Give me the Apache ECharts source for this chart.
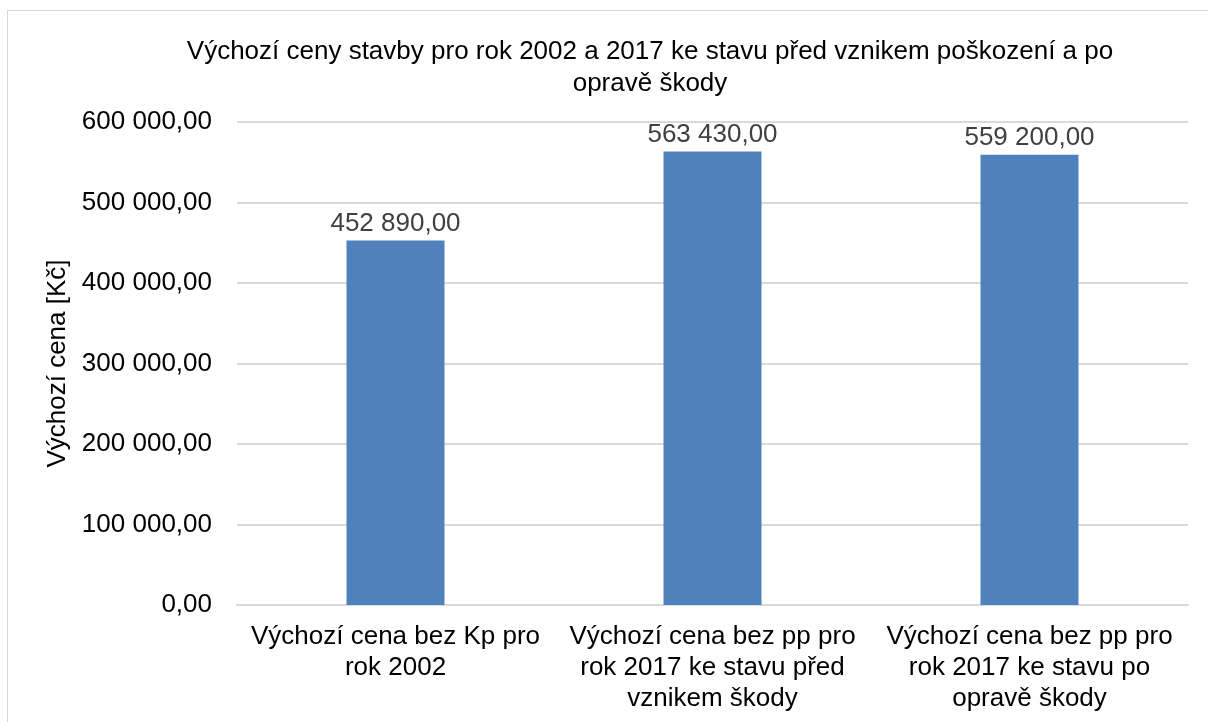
<!DOCTYPE html>
<html lang="cs">
<head>
<meta charset="UTF-8">
<title>Výchozí ceny stavby</title>
<script src="https://cdn.jsdelivr.net/npm/echarts@6/dist/echarts.min.js"></script>
<style>
  html, body { margin: 0; padding: 0; background: #fff; }
  #frame { position: absolute; left: 7px; top: 10px; width: 1210px; height: 730px; border: 1px solid #d9d9d9; box-sizing: border-box; }
  #main { position: absolute; left: 0; top: 0; width: 1208px; height: 722px; }
</style>
</head>
<body>
<div id="frame"></div>
<div id="main"></div>
<script>
var categories = [
  'Výchozí cena bez Kp pro\nrok 2002',
  'Výchozí cena bez pp pro\nrok 2017 ke stavu před\nvznikem škody',
  'Výchozí cena bez pp pro\nrok 2017 ke stavu po\nopravě škody'
];
var values = [452890, 563430, 559200];
var titleText = 'Výchozí ceny stavby pro rok 2002 a 2017 ke stavu před vznikem poškození a po\nopravě škody';
var yName = 'Výchozí cena [Kč]';

// 600 000,00 style formatting
function fmt(v) {
  var s = Math.round(v).toString().replace(/\B(?=(\d{3})+(?!\d))/g, ' ');
  return s + ',00';
}

var chart = echarts.init(document.getElementById('main'));
chart.setOption({
  animation: false,
  textStyle: { fontFamily: 'Liberation Sans, Arial, sans-serif' },
  title: {
    text: titleText,
    left: 645,
    top: 31,
    textAlign: 'center',
    textStyle: { fontSize: 26, fontWeight: 'normal', color: '#000', lineHeight: 32 }
  },
  grid: { left: 237, right: 20, top: 122, bottom: 117 },
  xAxis: {
    type: 'category',
    data: categories,
    axisTick: { show: false },
    axisLine: { lineStyle: { color: '#d9d9d9', width: 2 } },
    axisLabel: { color: '#000', fontSize: 26, lineHeight: 31, margin: 16, interval: 0 }
  },
  yAxis: {
    type: 'value',
    min: 0,
    max: 600000,
    interval: 100000,
    name: yName,
    nameLocation: 'middle',
    nameGap: 166,
    nameTextStyle: { color: '#000', fontSize: 26 },
    axisLine: { show: false },
    axisTick: { show: false },
    splitLine: { lineStyle: { color: '#d9d9d9', width: 2 } },
    axisLabel: { color: '#000', fontSize: 26, margin: 25, formatter: fmt }
  },
  series: [{
    type: 'bar',
    data: values,
    barWidth: 98,
    itemStyle: { color: '#4f81bd' },
    label: {
      show: true,
      position: 'top',
      distance: 4,
      color: '#404040',
      fontSize: 26,
      formatter: function (p) { return fmt(p.value); }
    }
  }]
});
</script>
</body>
</html>
